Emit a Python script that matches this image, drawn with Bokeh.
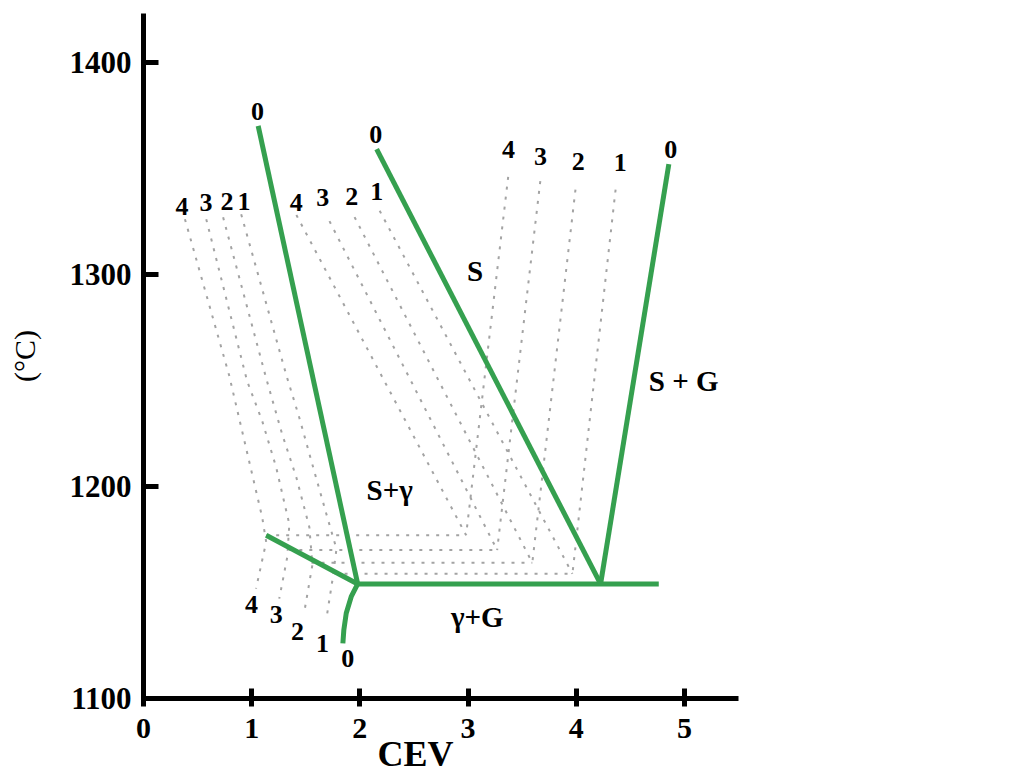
from bokeh.plotting import figure
from bokeh.models import Range1d, FixedTicker, Title, ColumnDataSource
from bokeh.core.properties import value
from bokeh.embed import file_html
from bokeh.resources import INLINE

# ---------------- data (CEV, temperature in °C) ----------------
x_ticks = [0, 1, 2, 3, 4, 5]
y_ticks = [1100, 1200, 1300, 1400]

# green phase boundaries
liq_aus_x = [1.06, 1.98]
liq_aus_y = [1370, 1154]
liq_s_x = [2.155, 4.225]
liq_s_y = [1359, 1154]
liq_gr_x = [4.225, 4.856]
liq_gr_y = [1154, 1352]
eut_x = [1.98, 4.763]
eut_y = [1154, 1154]
short_x = [1.134, 1.98]
short_y = [1177, 1154]
sol_x = [1.98, 1.92, 1.874, 1.852, 1.843]
sol_y = [1154, 1148, 1140.2, 1132.4, 1126]

# dashed isopleths (Si = 4, 3, 2, 1)
aus4_x = [0.383, 0.791, 1.097, 1.134, 1.04]
aus4_y = [1326, 1252.5, 1185.5, 1173.8, 1151.8]
aus3_x = [0.58, 0.958, 1.097, 1.227, 1.348, 1.329, 1.255]
aus3_y = [1326, 1249.6, 1230.9, 1208.9, 1182.2, 1166.7, 1147.1]
aus2_x = [0.736, 1.134, 1.283, 1.413, 1.533, 1.561, 1.487]
aus2_y = [1326.9, 1251, 1224.4, 1204.2, 1180.8, 1163, 1141]
aus1_x = [0.903, 1.32, 1.441, 1.561, 1.691, 1.784, 1.747, 1.691]
aus1_y = [1328.3, 1252.5, 1232.3, 1210.3, 1186.9, 1170.5, 1156, 1137.7]

mid4_x = [1.413, 2.982]
mid4_y = [1328, 1177]
mid3_x = [1.719, 3.269]
mid3_y = [1325.1, 1170]
mid2_x = [1.951, 3.594]
mid2_y = [1327, 1164]
mid1_x = [2.183, 3.965]
mid1_y = [1330, 1158.8]

gr4_x = [3.371, 2.982]
gr4_y = [1346, 1177]
gr3_x = [3.668, 3.269]
gr3_y = [1344, 1170]
gr2_x = [3.993, 3.594]
gr2_y = [1340, 1164]
gr1_x = [4.364, 3.965]
gr1_y = [1340, 1158.8]

eut4_x = [1.134, 2.982]
eut4_y = [1177, 1177]
eut3_x = [1.348, 3.269]
eut3_y = [1170, 1170]
eut2_x = [1.553, 3.594]
eut2_y = [1164, 1164]
eut1_x = [1.766, 3.965]
eut1_y = [1158.8, 1158.8]

# number labels
num_text = ["0", "0", "0",
            "4", "3", "2", "1",
            "4", "3", "2", "1",
            "4", "3", "2", "1",
            "4", "3", "2", "1", "0"]
num_x = [1.053, 2.146, 4.874,
         0.355, 0.578, 0.773, 0.93,
         1.413, 1.656, 1.924, 2.155,
         3.373, 3.669, 4.018, 4.408,
         0.998, 1.227, 1.423, 1.655, 1.887]
num_y = [1376.6, 1365.8, 1358.8,
         1332.1, 1334, 1334.4, 1334.4,
         1334, 1336.3, 1336.8, 1339.1,
         1358.8, 1355.5, 1353.2, 1352.7,
         1144.3, 1139.6, 1131.6, 1126, 1119]

# region labels
reg_text = ["S", "S + G", "S+γ", "γ+G"]
reg_x = [3.065, 4.993, 2.276, 3.085]
reg_y = [1301.6, 1249.6, 1198.1, 1138.6]

# ---------------- figure ----------------
GREEN = "#35a04f"
SERIF = "Liberation Serif"

p = figure(frame_width=595, frame_height=685,
           x_range=Range1d(0, 5.5), y_range=Range1d(1100, 1423),
           output_backend="svg", toolbar_location=None,
           min_border_left=143, min_border_top=13,
           min_border_bottom=76, min_border_right=60)
p.background_fill_color = "white"
p.border_fill_color = "white"
p.outline_line_color = None
p.grid.visible = False

dash_xs = [aus4_x, aus3_x, aus2_x, aus1_x, mid4_x, mid3_x, mid2_x, mid1_x,
           gr4_x, gr3_x, gr2_x, gr1_x, eut4_x, eut3_x, eut2_x, eut1_x]
dash_ys = [aus4_y, aus3_y, aus2_y, aus1_y, mid4_y, mid3_y, mid2_y, mid1_y,
           gr4_y, gr3_y, gr2_y, gr1_y, eut4_y, eut3_y, eut2_y, eut1_y]
p.multi_line(xs=dash_xs, ys=dash_ys, line_color="#a3a3a3",
             line_width=2, line_dash="3 7")

for gx, gy in [(liq_aus_x, liq_aus_y), (liq_s_x, liq_s_y), (liq_gr_x, liq_gr_y),
               (eut_x, eut_y), (short_x, short_y), (sol_x, sol_y)]:
    p.line(gx, gy, line_color=GREEN, line_width=5, line_join="round")

num_src = ColumnDataSource(dict(x=num_x, y=num_y, t=num_text))
p.text(x="x", y="y", text="t", source=num_src,
       text_font=value(SERIF), text_font_style="bold",
       text_font_size="26px", text_color="black",
       text_align="center", text_baseline="middle")

reg_src = ColumnDataSource(dict(x=reg_x, y=reg_y, t=reg_text))
p.text(x="x", y="y", text="t", source=reg_src,
       text_font=value(SERIF), text_font_style="bold",
       text_font_size="29px", text_color="black",
       text_align="center", text_baseline="middle")

# axes
for ax in (p.xaxis[0], p.yaxis[0]):
    ax.axis_line_width = 5
    ax.axis_line_color = "black"
    ax.major_tick_line_width = 5
    ax.major_tick_line_color = "black"
    ax.minor_tick_line_color = None
    ax.major_label_text_font = SERIF
    ax.major_label_text_font_style = "bold"
    ax.major_label_text_color = "black"

p.xaxis.ticker = FixedTicker(ticks=x_ticks)
p.yaxis.ticker = FixedTicker(ticks=y_ticks)
p.yaxis.major_label_text_font_size = "31px"
p.xaxis.major_label_text_font_size = "30px"
p.yaxis.major_tick_in = 15
p.yaxis.major_tick_out = 0
p.xaxis.major_tick_in = 10
p.xaxis.major_tick_out = 8
p.yaxis.major_label_standoff = 12
p.xaxis.major_label_standoff = 12

p.yaxis.axis_label = "(°C)"
p.yaxis.axis_label_text_font = SERIF
p.yaxis.axis_label_text_font_style = "normal"
p.yaxis.axis_label_text_font_size = "30px"
p.yaxis.axis_label_text_color = "black"
p.yaxis.axis_label_standoff = 26

cev = Title(text="CEV", align="left", offset=234, standoff=-17,
            text_font=SERIF, text_font_style="bold", text_font_size="36px",
            text_color="black")
p.add_layout(cev, "below")

open("out.html", "w").write(file_html(p, INLINE))
